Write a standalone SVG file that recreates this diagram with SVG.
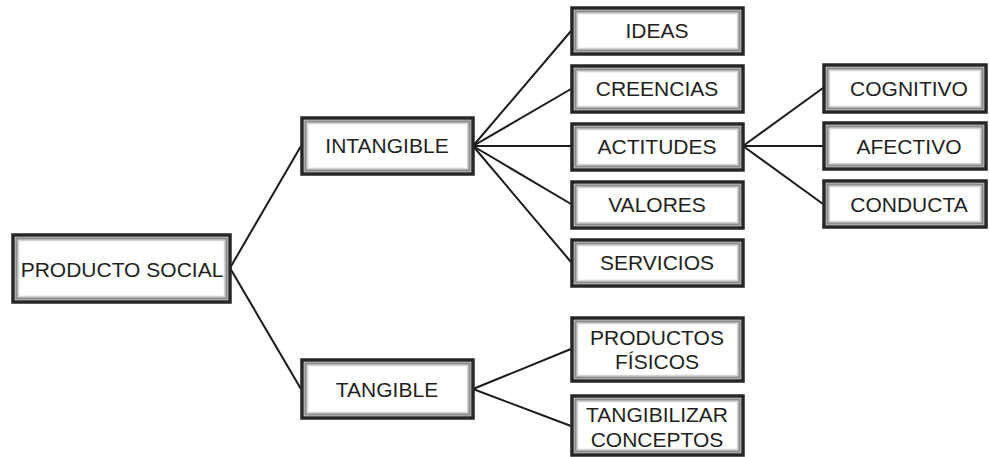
<svg xmlns="http://www.w3.org/2000/svg" width="989" height="457" viewBox="0 0 989 457">
<style>
.o{fill:#fff;stroke:#262626;stroke-width:3.5}
.m{fill:none;stroke:#8c8c8c;stroke-width:2.5}
.i{fill:none;stroke:#d4d4d4;stroke-width:1.5}
text{font-family:"Liberation Sans",Arial,sans-serif;font-size:21px;fill:#231f20;text-anchor:middle;dominant-baseline:central}
.c line{stroke:#1a1a1a;stroke-width:2}
</style>
<rect width="989" height="457" fill="#fff"/>
<g class="c">
<line x1="230" y1="268" x2="301" y2="146"/>
<line x1="230" y1="268" x2="301" y2="389"/>
<line x1="473" y1="146" x2="571" y2="31"/>
<line x1="473" y1="146" x2="571" y2="89"/>
<line x1="473" y1="146" x2="571" y2="146"/>
<line x1="473" y1="146" x2="571" y2="204"/>
<line x1="473" y1="146" x2="571" y2="262"/>
<line x1="743" y1="146" x2="823" y2="88"/>
<line x1="743" y1="146" x2="823" y2="146"/>
<line x1="743" y1="146" x2="823" y2="204"/>
<line x1="473" y1="389" x2="571" y2="349"/>
<line x1="473" y1="389" x2="571" y2="426"/>
</g>
<g id="producto-social"><rect class="o" x="13" y="235" width="217" height="67"/><rect class="m" x="16.5" y="238.5" width="210" height="60"/><rect class="i" x="18.5" y="240.5" width="206" height="56"/><text x="122" y="269">PRODUCTO SOCIAL</text></g>
<g id="intangible"><rect class="o" x="302" y="118" width="171" height="56"/><rect class="m" x="305.5" y="121.5" width="164" height="49"/><rect class="i" x="307.5" y="123.5" width="160" height="45"/><text x="387" y="145">INTANGIBLE</text></g>
<g id="tangible"><rect class="o" x="302" y="360" width="171" height="58"/><rect class="m" x="305.5" y="363.5" width="164" height="51"/><rect class="i" x="307.5" y="365.5" width="160" height="47"/><text x="387" y="389">TANGIBLE</text></g>
<g id="ideas"><rect class="o" x="572" y="8" width="171" height="46"/><rect class="m" x="575.5" y="11.5" width="164" height="39"/><rect class="i" x="577.5" y="13.5" width="160" height="35"/><text x="657" y="30">IDEAS</text></g>
<g id="creencias"><rect class="o" x="572" y="66" width="171" height="46"/><rect class="m" x="575.5" y="69.5" width="164" height="39"/><rect class="i" x="577.5" y="71.5" width="160" height="35"/><text x="657" y="88">CREENCIAS</text></g>
<g id="actitudes"><rect class="o" x="572" y="124" width="171" height="46"/><rect class="m" x="575.5" y="127.5" width="164" height="39"/><rect class="i" x="577.5" y="129.5" width="160" height="35"/><text x="657" y="146">ACTITUDES</text></g>
<g id="valores"><rect class="o" x="572" y="182" width="171" height="46"/><rect class="m" x="575.5" y="185.5" width="164" height="39"/><rect class="i" x="577.5" y="187.5" width="160" height="35"/><text x="657" y="204">VALORES</text></g>
<g id="servicios"><rect class="o" x="572" y="240" width="171" height="46"/><rect class="m" x="575.5" y="243.5" width="164" height="39"/><rect class="i" x="577.5" y="245.5" width="160" height="35"/><text x="657" y="262">SERVICIOS</text></g>
<g id="cognitivo"><rect class="o" x="824" y="65" width="162" height="47"/><rect class="m" x="827.5" y="68.5" width="155" height="40"/><rect class="i" x="829.5" y="70.5" width="151" height="36"/><text x="909" y="88">COGNITIVO</text></g>
<g id="afectivo"><rect class="o" x="824" y="123" width="162" height="46"/><rect class="m" x="827.5" y="126.5" width="155" height="39"/><rect class="i" x="829.5" y="128.5" width="151" height="35"/><text x="909" y="146">AFECTIVO</text></g>
<g id="conducta"><rect class="o" x="824" y="181" width="162" height="46"/><rect class="m" x="827.5" y="184.5" width="155" height="39"/><rect class="i" x="829.5" y="186.5" width="151" height="35"/><text x="909" y="204">CONDUCTA</text></g>
<g id="productos-fisicos"><rect class="o" x="572" y="318" width="171" height="63"/><rect class="m" x="575.5" y="321.5" width="164" height="56"/><rect class="i" x="577.5" y="323.5" width="160" height="52"/><text x="657" y="337">PRODUCTOS</text><text x="657" y="361">FÍSICOS</text></g>
<g id="tangibilizar-conceptos"><rect class="o" x="572" y="396" width="171" height="59"/><rect class="m" x="575.5" y="399.5" width="164" height="52"/><rect class="i" x="577.5" y="401.5" width="160" height="48"/><text x="657" y="414">TANGIBILIZAR</text><text x="657" y="439">CONCEPTOS</text></g>
</svg>
